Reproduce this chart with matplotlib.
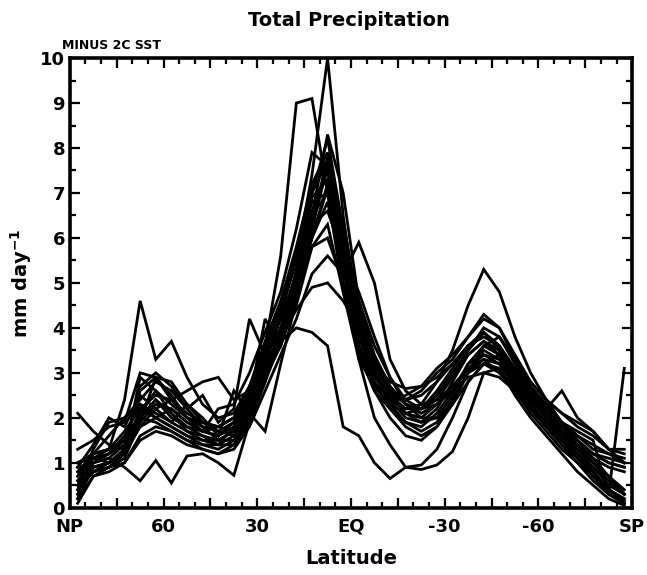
import matplotlib
matplotlib.use("Agg")
import matplotlib.pyplot as plt
from matplotlib.ticker import MultipleLocator, FixedLocator, FixedFormatter

plt.rcParams['font.family'] = ['DejaVu Sans']

lats = [87.5, 82.5, 77.5, 72.5, 67.5, 62.5, 57.5, 52.5, 47.5, 42.5, 37.5, 32.5,
        27.5, 22.5, 17.5, 12.5, 7.5, 2.5, -2.5, -7.5, -12.5, -17.5, -22.5, -27.5,
        -32.5, -37.5, -42.5, -47.5, -52.5, -57.5, -62.5, -67.5, -72.5, -77.5, -82.5, -87.5]

m01 = [0.2, 0.9, 1.0, 1.3, 2.0, 2.4, 2.1, 1.8, 1.6, 1.5, 1.7, 2.3, 3.2, 4.3, 5.5, 7.4, 10.0, 6.5, 4.0, 3.0, 2.4, 2.0, 1.9, 2.2, 2.8, 3.4, 3.7, 3.4, 2.8, 2.2, 1.8, 1.5, 1.2, 0.8, 0.4, 0.1]
m02 = [0.8, 1.0, 1.1, 1.4, 2.6, 2.9, 2.5, 2.0, 1.8, 1.7, 1.9, 2.5, 3.6, 5.6, 9.0, 9.1, 7.0, 4.8, 3.3, 2.7, 2.3, 2.1, 2.2, 2.5, 3.0, 3.5, 3.9, 3.5, 2.9, 2.4, 2.0, 1.7, 1.4, 1.1, 0.9, 0.8]
m03 = [1.0, 1.2, 1.3, 2.4, 4.6, 3.3, 3.7, 2.9, 2.3, 2.0, 2.1, 2.7, 3.5, 4.2, 5.0, 6.3, 7.8, 6.0, 4.2, 3.1, 2.6, 2.4, 2.5, 2.8, 3.2, 3.6, 3.9, 3.6, 3.0, 2.5, 2.1, 1.8, 1.5, 1.2, 1.1, 1.0]
m04 = [0.6, 0.9, 1.0, 1.2, 2.2, 2.0, 1.8, 1.6, 1.4, 1.3, 1.5, 2.0, 3.0, 4.0, 5.0, 6.0, 6.8, 5.2, 5.9, 5.0, 3.3, 2.6, 2.3, 2.4, 2.7, 3.1, 3.4, 3.2, 2.8, 2.3, 1.9, 1.6, 1.3, 1.0, 0.7, 0.4]
m05 = [0.3, 1.0, 1.2, 1.6, 2.3, 2.1, 1.9, 1.7, 1.6, 1.4, 1.8, 2.5, 3.3, 3.7, 4.0, 3.9, 3.6, 1.8, 1.6, 1.0, 0.65, 0.9, 0.95, 1.3, 2.0, 2.8, 3.2, 3.1, 2.6, 2.1, 1.7, 1.3, 1.0, 0.6, 0.3, 0.1]
m06 = [0.5, 0.8, 0.9, 1.1, 1.9, 2.3, 2.2, 1.9, 1.7, 1.6, 1.8, 2.4, 3.3, 4.2, 5.2, 6.6, 7.5, 5.5, 3.6, 2.8, 2.4, 2.2, 2.3, 2.8, 3.5, 4.5, 5.3, 4.8, 3.8, 3.0, 2.4, 1.9, 1.5, 1.1, 0.7, 0.3]
m07 = [0.7, 1.1, 1.2, 1.5, 2.1, 2.6, 2.3, 2.0, 1.9, 1.8, 2.0, 2.6, 3.4, 4.0, 4.8, 6.0, 7.2, 6.0, 4.3, 3.2, 2.6, 2.3, 2.2, 2.5, 3.0, 3.4, 3.7, 3.5, 3.0, 2.6, 2.2, 1.9, 1.7, 1.5, 0.3, 3.1]
m08 = [0.9, 1.0, 1.1, 0.9, 0.6, 1.05, 0.55, 1.15, 1.2, 1.0, 0.72, 1.9, 3.0, 3.8, 4.5, 5.8, 6.3, 4.8, 3.5, 2.6, 2.0, 1.6, 1.5, 1.8, 2.4, 3.0, 3.3, 3.2, 2.7, 2.2, 1.8, 1.4, 1.1, 0.8, 0.4, 0.2]
m09 = [0.4, 1.2, 1.6, 2.0, 2.4, 2.8, 2.6, 2.2, 2.5, 1.9, 2.2, 4.2, 3.4, 4.5, 5.6, 7.0, 8.2, 6.2, 4.5, 3.4, 2.7, 2.3, 2.2, 2.4, 2.9, 3.5, 4.0, 3.8, 3.2, 2.7, 2.3, 1.9, 1.6, 1.3, 1.2, 1.0]
m10 = [1.3, 1.5, 1.8, 1.9, 3.0, 2.9, 2.4, 2.0, 1.7, 1.8, 2.0, 2.4, 4.2, 3.6, 4.6, 6.2, 7.6, 5.6, 3.8, 2.9, 2.5, 2.4, 2.6, 3.0, 3.3, 3.8, 4.2, 4.0, 3.4, 2.8, 2.4, 2.1, 1.8, 1.6, 1.3, 1.2]
m11 = [2.1, 1.7, 1.4, 1.3, 2.0, 1.9, 1.7, 1.5, 1.4, 1.4, 1.6, 2.1, 2.9, 3.8, 4.8, 5.8, 6.0, 5.0, 4.0, 3.0, 2.5, 2.1, 2.0, 2.3, 2.7, 3.1, 3.3, 3.0, 2.6, 2.2, 1.9, 1.6, 1.4, 1.2, 1.0, 0.9]
m12 = [0.5, 0.8, 0.9, 1.2, 1.8, 2.2, 2.4, 2.6, 2.8, 2.9, 2.4, 2.6, 3.3, 4.0, 5.2, 6.9, 7.3, 5.0, 3.4, 2.6, 2.2, 1.9, 1.7, 1.9, 2.4, 3.0, 3.5, 3.3, 2.8, 2.3, 1.9, 1.5, 1.1, 0.7, 0.4, 0.2]
m13 = [0.9, 1.4, 2.0, 1.8, 2.5, 2.2, 1.9, 2.3, 2.0, 1.6, 2.6, 2.1, 1.7, 3.2, 4.6, 6.5, 7.0, 5.3, 3.6, 2.7, 2.3, 2.5, 2.7, 2.9, 3.2, 3.6, 3.8, 3.6, 3.1, 2.6, 2.2, 1.9, 1.6, 1.4, 1.2, 1.1]
m14 = [0.2, 0.7, 0.9, 1.0, 1.6, 1.8, 1.7, 1.5, 1.3, 1.2, 1.4, 1.9, 2.8, 3.9, 5.3, 7.0, 7.7, 5.8, 3.3, 2.0, 1.4, 0.9, 0.85, 0.95, 1.25, 2.0, 3.0, 3.1, 2.5, 2.0, 1.6, 1.2, 0.8, 0.5, 0.2, 0.05]
m15 = [0.6, 1.0, 1.2, 1.4, 2.0, 2.4, 2.0, 1.8, 1.7, 1.6, 1.9, 2.6, 3.6, 4.4, 5.6, 6.8, 7.0, 5.4, 4.0, 3.2, 2.8, 2.65, 2.7, 3.1, 3.4, 3.8, 4.3, 4.0, 3.3, 2.8, 2.4, 2.1, 1.9, 1.7, 1.3, 1.0]
m16 = [0.3, 0.9, 1.0, 1.2, 1.9, 2.9, 2.8, 2.3, 1.9, 1.7, 1.6, 2.2, 3.1, 3.9, 5.0, 6.5, 8.3, 7.0, 4.6, 3.3, 2.6, 2.1, 1.9, 2.0, 2.5, 3.2, 3.6, 3.4, 2.9, 2.4, 2.0, 1.6, 1.2, 0.8, 0.4, 0.15]
m17 = [0.7, 1.1, 1.3, 1.5, 1.8, 2.0, 1.8, 1.6, 1.5, 1.5, 1.7, 2.3, 3.1, 3.8, 4.4, 4.9, 5.0, 4.6, 4.0, 3.3, 2.7, 2.3, 2.1, 2.3, 2.7, 3.0, 3.2, 3.0, 2.7, 2.4, 2.1, 1.8, 1.5, 1.2, 1.0, 0.9]
m18 = [0.4, 0.8, 1.0, 1.3, 2.7, 3.0, 2.7, 2.2, 1.8, 1.5, 1.5, 2.0, 2.9, 3.6, 4.8, 6.0, 7.1, 6.4, 4.4, 3.0, 2.3, 1.9, 1.8, 2.1, 2.6, 3.2, 3.4, 3.3, 3.0, 2.5, 2.0, 1.6, 1.2, 0.9, 0.6, 0.3]
m19 = [0.8, 1.2, 1.3, 1.7, 2.2, 2.5, 2.4, 2.1, 1.9, 1.8, 2.0, 2.7, 3.7, 4.6, 5.8, 7.2, 7.9, 5.9, 4.0, 3.0, 2.5, 2.2, 2.2, 2.6, 3.1, 3.6, 3.9, 3.6, 3.0, 2.3, 2.2, 2.6, 2.0, 1.7, 1.3, 1.3]
m20 = [0.1, 0.7, 0.8, 1.0, 1.5, 1.7, 1.6, 1.4, 1.3, 1.2, 1.3, 1.8, 2.6, 3.4, 4.2, 5.2, 5.6, 5.2, 4.6, 3.6, 2.9, 2.4, 2.2, 2.3, 2.6, 2.9, 3.0, 2.9, 2.6, 2.2, 1.8, 1.4, 1.0, 0.7, 0.3, 0.1]
m21 = [0.5, 1.3, 1.9, 2.0, 2.3, 2.0, 2.2, 1.9, 1.7, 2.2, 2.3, 3.0, 3.9, 4.8, 6.2, 7.9, 7.6, 5.5, 3.8, 2.8, 2.2, 1.8, 1.6, 1.8, 2.3, 3.0, 3.6, 3.8, 3.3, 2.7, 2.2, 1.8, 1.4, 1.0, 0.6, 0.3]
m22 = [1.0, 1.1, 1.0, 1.2, 2.9, 2.6, 2.1, 1.7, 1.5, 1.4, 1.4, 1.9, 2.8, 3.7, 4.9, 6.3, 6.6, 5.6, 4.8, 3.8, 2.9, 2.3, 2.0, 2.0, 2.3, 2.8, 3.2, 3.4, 3.1, 2.6, 2.1, 1.7, 1.3, 0.9, 0.5, 0.3]

models = [m01, m02, m03, m04, m05, m06, m07, m08, m09, m10, m11,
          m12, m13, m14, m15, m16, m17, m18, m19, m20, m21, m22]

xtick_pos = [90, 60, 30, 0, -30, -60, -90]
xtick_lab = ['NP', '60', '30', 'EQ', '-30', '-60', 'SP']

fig = plt.figure(figsize=(6.47, 5.75), dpi=100)
ax = fig.add_axes([0.108, 0.117, 0.869, 0.782])

for vals in models:
    ax.plot(lats, vals, color='black', lw=2.0, solid_joinstyle='miter')

ax.set_xlim(90, -90)
ax.set_ylim(0, 10)

ax.xaxis.set_major_locator(FixedLocator(list(range(90, -91, -15))))
ax.xaxis.set_major_formatter(FixedFormatter(['' for _ in range(13)]))
ax.xaxis.set_minor_locator(MultipleLocator(5))
ax.yaxis.set_major_locator(MultipleLocator(1))
ax.yaxis.set_minor_locator(MultipleLocator(0.5))

ax.tick_params(which='both', direction='in', top=True, right=True, width=1.6,
               labelsize=13)
ax.tick_params(which='major', length=7)
ax.tick_params(which='minor', length=4)
for lab in ax.get_yticklabels():
    lab.set_fontweight('bold')

for p, t in zip(xtick_pos, xtick_lab):
    ax.text(p, -0.22, t, ha='center', va='top', fontsize=13, fontweight='bold',
            transform=ax.transData)

for s in ax.spines.values():
    s.set_linewidth(2.6)

ax.set_xlabel('Latitude', fontsize=14, fontweight='bold', labelpad=26)
ax.set_ylabel('mm day$^{\\mathbf{-1}}$', fontsize=14, fontweight='bold', labelpad=4)
fig.text(0.54, 0.965, 'Total Precipitation', ha='center', va='center',
         fontsize=14, fontweight='bold')
fig.text(0.096, 0.921, 'MINUS 2C SST', ha='left', va='center',
         fontsize=9, fontweight='bold')

fig.savefig('out.png', dpi=100)
